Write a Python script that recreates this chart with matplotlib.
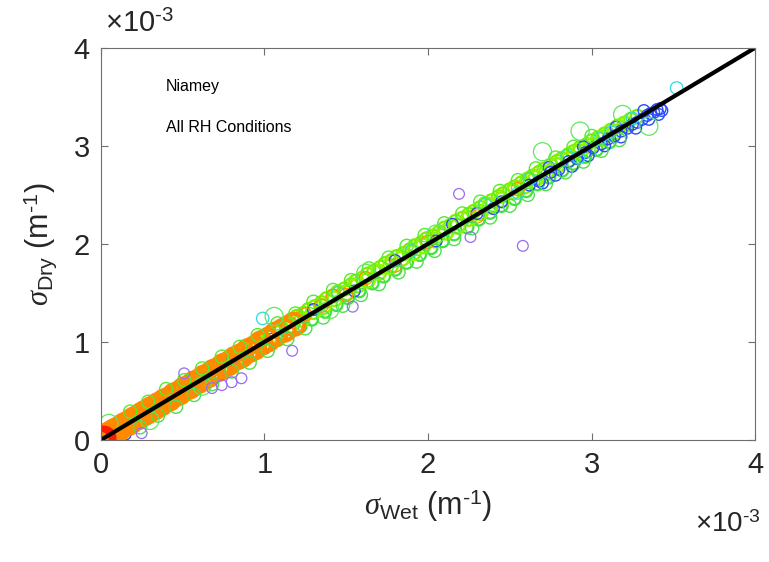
import numpy as np
import matplotlib
matplotlib.use("Agg")
import matplotlib.pyplot as plt
from matplotlib.ticker import FuncFormatter

plt.rcParams['font.family'] = ['Liberation Sans', 'DejaVu Sans']
plt.rcParams['mathtext.fontset'] = 'custom'
plt.rcParams['mathtext.rm'] = 'Liberation Sans'
plt.rcParams['mathtext.it'] = 'Liberation Serif:italic'
plt.rcParams['mathtext.bf'] = 'Liberation Sans:bold'
plt.rcParams['axes.unicode_minus'] = False

# all values in units of 1e-3 m^-1
# main green band, points just above the 1:1 line
green_up_x = [0.12, 0.16, 0.19, 0.23, 0.27, 0.30, 0.34, 0.37, 0.41, 0.45, 0.48, 0.52, 0.55, 0.59,
              0.63, 0.66, 0.70, 0.73, 0.77, 0.81, 0.84, 0.88, 0.91, 0.95, 0.99, 1.02, 1.06, 1.09,
              1.13, 1.17, 1.20, 1.24, 1.27, 1.31, 1.35, 1.38, 1.42, 1.45, 1.49, 1.53, 1.56, 1.60,
              1.63, 1.67, 1.71, 1.74, 1.78, 1.81, 1.85, 1.89, 1.92, 1.96, 1.99, 2.03, 2.07, 2.10,
              2.14, 2.17, 2.21, 2.25, 2.28, 2.32, 2.35, 2.39, 2.43, 2.46, 2.50, 2.53, 2.57, 2.61,
              2.64, 2.68, 2.71, 2.75, 2.79, 2.82, 2.86, 2.89, 2.93, 2.97, 3.00, 3.04, 3.08, 3.12,
              3.16, 3.20, 3.24, 3.28]
green_up_y = [0.17, 0.20, 0.24, 0.27, 0.32, 0.35, 0.38, 0.42, 0.45, 0.50, 0.53, 0.56, 0.61, 0.64,
              0.67, 0.72, 0.75, 0.79, 0.82, 0.86, 0.90, 0.93, 0.97, 1.00, 1.05, 1.08, 1.11, 1.15,
              1.19, 1.22, 1.26, 1.29, 1.33, 1.36, 1.40, 1.44, 1.47, 1.51, 1.54, 1.58, 1.62, 1.65,
              1.69, 1.72, 1.76, 1.80, 1.83, 1.87, 1.90, 1.94, 1.98, 2.01, 2.05, 2.08, 2.12, 2.16,
              2.19, 2.23, 2.26, 2.30, 2.33, 2.37, 2.41, 2.44, 2.48, 2.51, 2.55, 2.58, 2.62, 2.66,
              2.69, 2.73, 2.76, 2.80, 2.84, 2.87, 2.91, 2.94, 2.98, 3.01, 3.05, 3.08, 3.12, 3.16,
              3.20, 3.23, 3.27, 3.30]

# green band, points just below the line
green_dn_x = [0.14, 0.21, 0.28, 0.35, 0.43, 0.50, 0.57, 0.64, 0.71, 0.79, 0.86, 0.93, 1.00, 1.08,
              1.15, 1.22, 1.29, 1.37, 1.44, 1.51, 1.58, 1.66, 1.73, 1.80, 1.87, 1.95, 2.02, 2.09,
              2.16, 2.24, 2.31, 2.38, 2.45, 2.53, 2.60, 2.67, 2.74, 2.82, 2.89, 2.96, 3.03, 3.11]
green_dn_y = [0.09, 0.15, 0.22, 0.30, 0.37, 0.44, 0.51, 0.58, 0.66, 0.73, 0.80, 0.87, 0.94, 1.02,
              1.09, 1.16, 1.23, 1.31, 1.38, 1.45, 1.52, 1.60, 1.67, 1.74, 1.81, 1.89, 1.96, 2.03,
              2.10, 2.17, 2.25, 2.32, 2.39, 2.46, 2.54, 2.61, 2.68, 2.75, 2.82, 2.89, 2.96, 3.04]

# green points on the line
green_mid_x = [0.25, 0.31, 0.38, 0.44, 0.51, 0.57, 0.63, 0.70, 0.76, 0.83, 0.89, 0.96, 1.03, 1.10,
               1.16, 1.23, 1.30, 1.36, 1.43, 1.50, 1.57, 1.63, 1.70, 1.77, 1.84, 1.91, 1.97, 2.04,
               2.11, 2.18, 2.25, 2.32, 2.38, 2.45, 2.52, 2.59, 2.66, 2.72, 2.79, 2.86, 2.93, 3.00,
               3.07, 3.14, 3.21]
green_mid_y = [0.26, 0.31, 0.39, 0.44, 0.52, 0.57, 0.64, 0.70, 0.77, 0.83, 0.90, 0.96, 1.04, 1.10,
               1.17, 1.23, 1.31, 1.36, 1.44, 1.50, 1.58, 1.63, 1.71, 1.77, 1.85, 1.91, 1.98, 2.04,
               2.12, 2.18, 2.26, 2.32, 2.39, 2.45, 2.53, 2.59, 2.67, 2.72, 2.80, 2.86, 2.94, 3.00,
               3.08, 3.14, 3.22]

# outer edge of the band, above
green_far_up_x = [0.18, 0.29, 0.40, 0.51, 0.62, 0.74, 0.85, 0.96, 1.08, 1.19, 1.30, 1.42, 1.53,
                  1.64, 1.76, 1.87, 1.98, 2.10, 2.21, 2.32, 2.44, 2.55, 2.66, 2.78, 2.89, 3.00]
green_far_up_y = [0.29, 0.39, 0.52, 0.61, 0.73, 0.85, 0.95, 1.07, 1.19, 1.29, 1.41, 1.53, 1.63,
                  1.75, 1.86, 1.98, 2.09, 2.21, 2.31, 2.43, 2.54, 2.65, 2.77, 2.88, 2.99, 3.10]

# outer edge of the band, below
green_far_dn_x = [0.24, 0.35, 0.46, 0.57, 0.68, 0.80, 0.91, 1.02, 1.14, 1.25, 1.36, 1.48, 1.59,
                  1.70, 1.82, 1.93, 2.04, 2.16, 2.27, 2.38, 2.50, 2.61, 2.72, 2.84, 2.95, 3.06, 3.17]
green_far_dn_y = [0.13, 0.25, 0.34, 0.46, 0.57, 0.70, 0.79, 0.91, 1.03, 1.14, 1.25, 1.37, 1.48,
                  1.59, 1.71, 1.82, 1.93, 2.05, 2.16, 2.27, 2.39, 2.50, 2.61, 2.73, 2.84, 2.95, 3.06]

# large green circles sitting off the band
green_big_x = [0.05, 0.30, 1.06, 1.62, 2.05, 2.70, 2.93, 3.19, 3.35, 0.62, 1.40]
green_big_y = [0.17, 0.20, 1.26, 1.70, 2.10, 2.94, 3.15, 3.32, 3.20, 0.55, 1.33]

# blue points at the high end and scattered in the band
blue_x = [2.62, 2.68, 2.75, 2.80, 2.86, 2.91, 2.96, 3.01, 3.06, 3.10, 3.14, 3.18, 3.22, 3.25,
          3.28, 3.31, 3.34, 3.36, 3.38, 3.40, 3.42, 3.43, 0.55, 0.80, 1.05, 1.30, 1.55, 1.80,
          2.05, 2.30, 2.45, 2.15, 2.40, 0.02, 0.10, 0.15, 2.70, 2.78, 2.88, 2.98, 3.08, 3.18,
          3.27, 3.35, 3.41, 2.74, 2.95, 3.15, 3.32]
blue_y = [2.60, 2.64, 2.73, 2.76, 2.84, 2.87, 2.93, 2.98, 3.02, 3.07, 3.10, 3.15, 3.18, 3.22,
          3.24, 3.27, 3.31, 3.33, 3.34, 3.37, 3.38, 3.36, 0.53, 0.82, 1.03, 1.33, 1.52, 1.83,
          2.03, 2.31, 2.43, 2.20, 2.36, 0.10, 0.02, 0.06, 2.62, 2.70, 2.79, 2.90, 3.00, 3.09,
          3.18, 3.27, 3.32, 2.78, 2.99, 3.19, 3.36]
cyan_x = [0.99, 1.45, 1.90, 2.35, 2.55, 2.85, 3.05, 3.25, 3.52, 0.40, 0.70, 2.62, 2.92, 3.12]
cyan_y = [1.24, 1.50, 1.93, 2.40, 2.52, 2.90, 3.07, 3.28, 3.59, 0.44, 0.73, 2.66, 2.88, 3.14]

# orange core along the line at low values
orange_x = [0.03, 0.05, 0.07, 0.09, 0.11, 0.13, 0.15, 0.17, 0.19, 0.21, 0.23, 0.25, 0.27, 0.29,
            0.31, 0.33, 0.35, 0.37, 0.39, 0.42, 0.45, 0.48, 0.51, 0.54, 0.57, 0.60, 0.63, 0.66,
            0.69, 0.72, 0.75, 0.78, 0.82, 0.86, 0.90, 0.94, 0.98, 1.02, 1.07, 1.12, 1.18]
orange_y = [0.04, 0.06, 0.08, 0.10, 0.11, 0.14, 0.16, 0.17, 0.20, 0.22, 0.23, 0.26, 0.28, 0.29,
            0.32, 0.33, 0.36, 0.37, 0.40, 0.42, 0.46, 0.48, 0.52, 0.54, 0.58, 0.60, 0.64, 0.66,
            0.70, 0.72, 0.76, 0.78, 0.83, 0.86, 0.91, 0.94, 0.99, 1.02, 1.08, 1.12, 1.18]
orange_sparse_x = [1.25, 1.35, 1.50, 1.62, 1.80, 2.00, 2.30, 2.55, 1.15, 1.42]
orange_sparse_y = [1.28, 1.37, 1.48, 1.65, 1.78, 2.02, 2.28, 2.56, 1.20, 1.47]

red_x = [0.00, 0.01, 0.02]
red_y = [0.00, 0.01, 0.02]

# purple outliers
purple_x = [2.58, 2.26, 1.54, 1.17, 0.74, 0.80, 0.86, 0.68, 0.51, 2.19, 0.25]
purple_y = [1.98, 2.07, 1.36, 0.91, 0.56, 0.59, 0.63, 0.53, 0.68, 2.51, 0.07]

# 1:1 line
line_x = [0, 4]
line_y = [0, 4]

ticks = [0, 1, 2, 3, 4]

fig = plt.figure(figsize=(7.69, 5.62), dpi=100)
ax = fig.add_axes([0.131, 0.217, 0.851, 0.698])

def sc(x, y, color, s, lw):
    ax.scatter(np.array(x) * 1e-3, np.array(y) * 1e-3, s=s, facecolors='none',
               edgecolors=color, linewidths=lw)

sc(green_up_x, green_up_y, '#7cf000', 90, 1.6)
sc(green_dn_x, green_dn_y, '#3fe23f', 80, 1.6)
sc(green_mid_x, green_mid_y, '#8cf500', 110, 1.8)
sc(blue_x, blue_y, '#2a4bff', 70, 1.0)
sc(cyan_x, cyan_y, '#30d8e0', 80, 0.9)
sc(orange_sparse_x, orange_sparse_y, '#ff8a00', 90, 0.8)
sc(orange_x, orange_y, '#ff8a00', 230, 3.0)
sc(green_far_up_x, green_far_up_y, '#55ec30', 90, 1.0)
sc(green_far_dn_x, green_far_dn_y, '#4de04d', 90, 1.0)
sc(green_big_x, green_big_y, '#5ee85e', 170, 0.9)
sc(red_x, red_y, '#ff1a00', 220, 3.2)
sc(purple_x, purple_y, '#9a6cf0', 60, 0.9)

ax.plot(np.array(line_x) * 1e-3, np.array(line_y) * 1e-3, color='black', lw=3)

ax.set_xlim(0, 4e-3)
ax.set_ylim(0, 4e-3)
ax.set_xticks(np.array(ticks) * 1e-3)
ax.set_yticks(np.array(ticks) * 1e-3)
fmt = FuncFormatter(lambda v, _: f'{v * 1e3:g}')
ax.xaxis.set_major_formatter(fmt)
ax.yaxis.set_major_formatter(fmt)

ax.tick_params(direction='in', top=True, right=True, length=5, width=0.8,
               color='#6e6e6e', labelsize=21, labelcolor='#262626', pad=8)
for sp in ax.spines.values():
    sp.set_color('#6e6e6e')
    sp.set_linewidth(0.8)

ax.set_xlabel(r'$\sigma_{\mathrm{Wet}}$ (m$^{\text{-1}}$)', fontsize=22, color='#262626', labelpad=6)
ax.set_ylabel(r'$\sigma_{\mathrm{Dry}}$ (m$^{\text{-1}}$)', fontsize=22, color='#262626', labelpad=10)

ax.text(0.006, 1.06, r'$\times\mathrm{10}^{\text{-3}}$', transform=ax.transAxes,
        fontsize=21, color='#262626', ha='left', va='center')
ax.text(0.908, -0.215, r'$\times\mathrm{10}^{\text{-3}}$', transform=ax.transAxes,
        fontsize=20, color='#262626', ha='left', va='center')

ax.text(0.40e-3, 3.60e-3, 'Niamey', fontsize=11.5, ha='left', va='center')
ax.text(0.40e-3, 3.19e-3, 'All RH Conditions', fontsize=11.5, ha='left', va='center')

fig.savefig('out.png', dpi=100)
